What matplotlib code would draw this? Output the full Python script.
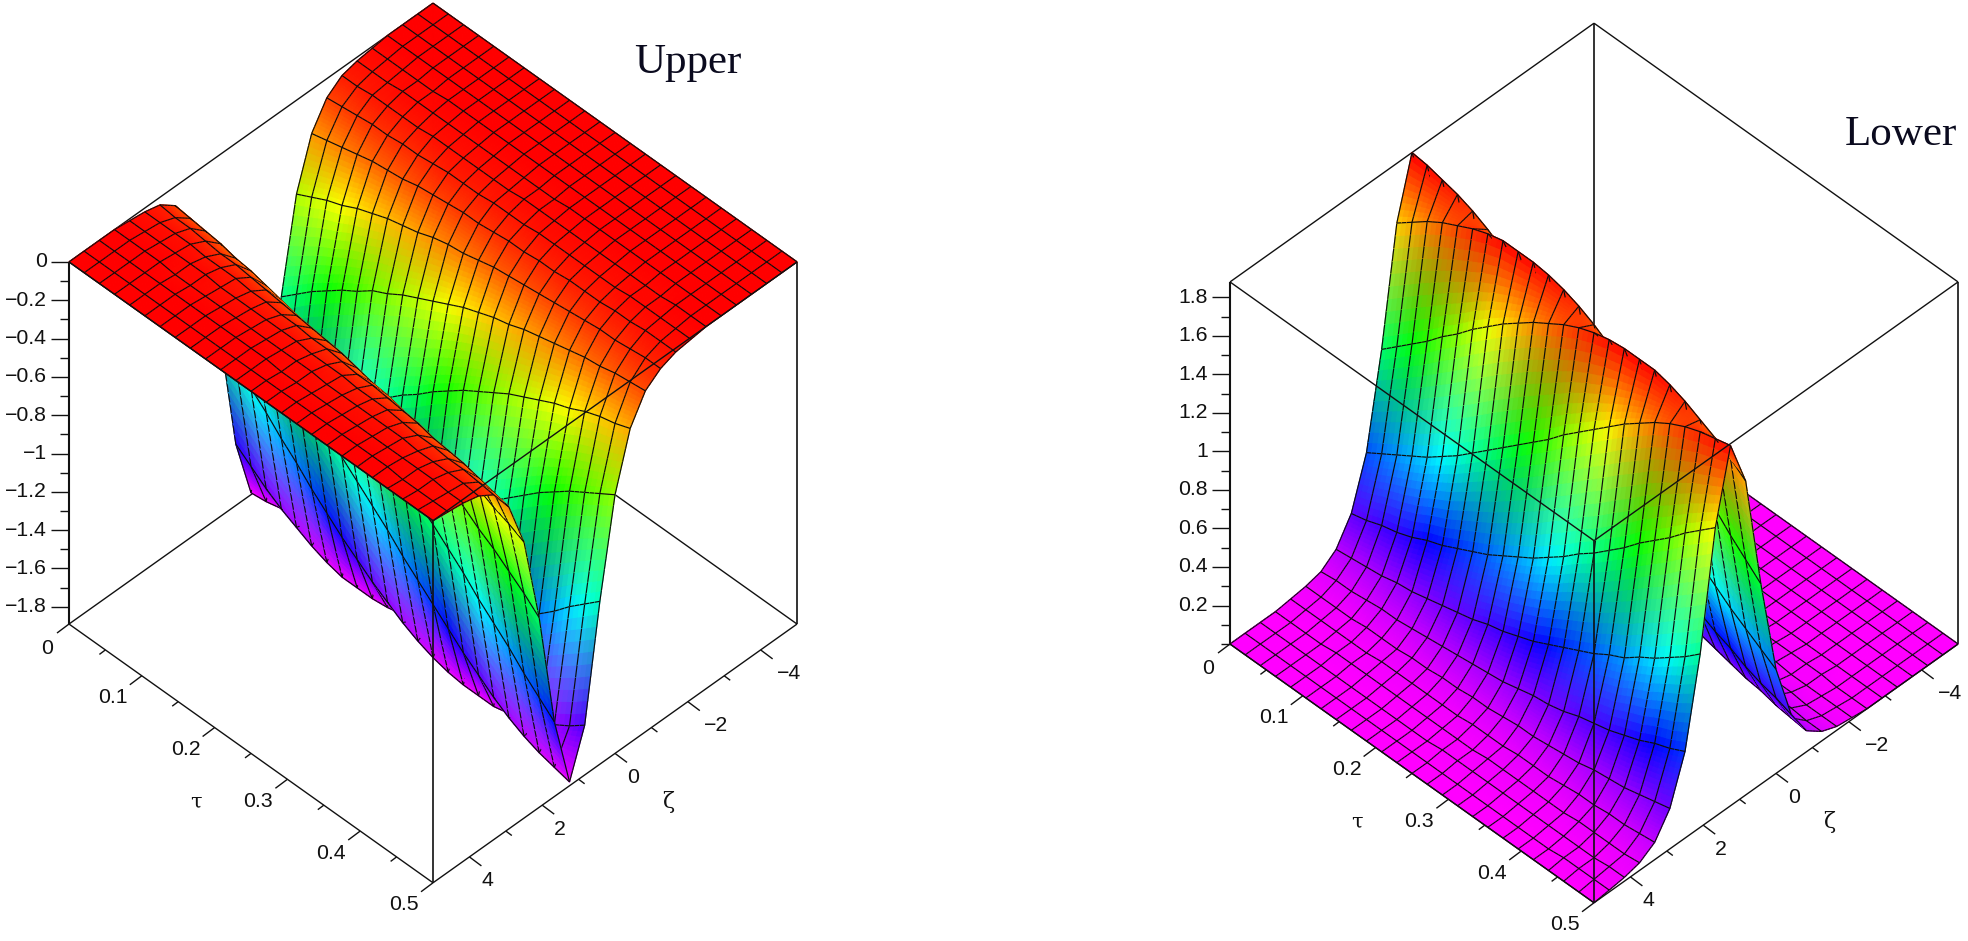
import numpy as np
import matplotlib
matplotlib.use("Agg")
import matplotlib.pyplot as plt
from matplotlib.colors import hsv_to_rgb
from mpl_toolkits.mplot3d.art3d import Poly3DCollection
from mpl_toolkits.mplot3d import proj3d

# ---------- data ----------
ZETA_RANGE = (-5.0, 5.0)
TAU_RANGE = (0.0, 0.5)
N_GRID = 25

# height of the soliton sheet: one list per zeta grid line (zeta = -5 ... 5),
# each with 25 entries for tau = 0 ... 0.5
C00 = [0.00]*25
C01 = [0.00]*25
C02 = [0.00]*25
C03 = [0.00]*25
C04 = [.01]*5+[0.00]*20
C05 = [.02,.02,.02]+[.01]*11+[0.00]*11
C06 = [.04,.04,.03,.03,.03,.03,.02,.02,.02,.02,.02,.02,.01,.01,.01,.01,.01,.01,.01,.01,.01,.01,.00,.00,.00]
C07 = [.10,.09,.08,.07,.07,.06,.06,.05,.04,.04,.04,.03,.03,.03,.02,.02,.02,.02,.02,.02,.01,.01,.01,.01,.01]
C08 = [.23,.21,.19,.17,.15,.14,.13,.11,.10,.09,.08,.08,.07,.06,.06,.05,.05,.04,.04,.04,.03,.03,.02,.02,.02]
C09 = [.49,.45,.41,.38,.34,.31,.28,.26,.24,.21,.19,.18,.16,.14,.13,.12,.11,.10,.09,.08,.07,.07,.06,.05,.05]
C10 = [.97,.90,.83,.77,.71,.66,.60,.56,.51,.47,.43,.39,.35,.32,.29,.27,.24,.22,.20,.18,.16,.15,.13,.12,.11]
C11 = [1.57,1.50,1.43,1.36,1.28,1.21,1.14,1.06,.99,.92,.86,.79,.73,.67,.62,.57,.52,.48,.44,.40,.37,.33,.30,.28,.25]
C12 = [1.88,1.87,1.85,1.83,1.80,1.76,1.71,1.65,1.59,1.52,1.45,1.38,1.31,1.23,1.16,1.09,1.02,.95,.88,.81,.75,.69,.64,.59,.54]
C13 = [1.57,1.63,1.69,1.74,1.78,1.82,1.85,1.87,1.87,1.87,1.86,1.84,1.81,1.77,1.72,1.67,1.61,1.55,1.48,1.41,1.33,1.26,1.18,1.11,1.04]
C14 = [.97,1.04,1.11,1.18,1.26,1.33,1.41,1.48,1.55,1.61,1.67,1.72,1.77,1.81,1.84,1.86,1.87,1.87,1.87,1.85,1.82,1.78,1.74,1.69,1.63]
C15 = [.49,.54,.59,.64,.69,.75,.81,.88,.95,1.02,1.09,1.16,1.23,1.31,1.38,1.45,1.52,1.59,1.65,1.71,1.76,1.80,1.83,1.85,1.87]
C16 = [.23,.25,.28,.30,.33,.37,.40,.44,.48,.52,.57,.62,.67,.73,.79,.86,.92,.99,1.06,1.14,1.21,1.28,1.36,1.43,1.50]
C17 = [.10,.11,.12,.13,.15,.16,.18,.20,.22,.24,.27,.29,.32,.35,.39,.43,.47,.51,.56,.60,.66,.71,.77,.83,.90]
C18 = [.04,.05,.05,.06,.07,.07,.08,.09,.10,.11,.12,.13,.14,.16,.18,.19,.21,.24,.26,.28,.31,.34,.38,.41,.45]
C19 = [.02,.02,.02,.02,.03,.03,.03,.04,.04,.05,.05,.06,.06,.07,.08,.08,.09,.10,.11,.13,.14,.15,.17,.19,.21]
C20 = [.01,.01,.01,.01,.01,.01,.02,.02,.02,.02,.02,.02,.03,.03,.03,.04,.04,.04,.05,.06,.06,.07,.07,.08,.09]
C21 = [.00,.00,.00,.00,.01,.01,.01,.01,.01,.01,.01,.01,.01,.01,.02,.02,.02,.02,.02,.02,.03,.03,.03,.03,.04]
C22 = [0.00]*12+[.01]*11+[.02,.02]
C23 = [0.00]*21+[.01]*4
C24 = [0.00]*25
HEIGHT_COLUMNS = [C00,C01,C02,C03,C04,C05,C06,C07,C08,C09,C10,C11,C12,
                  C13,C14,C15,C16,C17,C18,C19,C20,C21,C22,C23,C24]

UPPER_Z_RANGE = (-1.89, 0.0)
LOWER_Z_RANGE = (0.0, 1.88)
UPPER_Z_MAJOR = [0,-.2,-.4,-.6,-.8,-1,-1.2,-1.4,-1.6,-1.8]
UPPER_Z_LABELS = ["0","\u22120.2","\u22120.4","\u22120.6","\u22120.8","\u22121","\u22121.2","\u22121.4","\u22121.6","\u22121.8"]
UPPER_Z_MINOR = [-.1,-.3,-.5,-.7,-.9,-1.1,-1.3,-1.5,-1.7]
LOWER_Z_MAJOR = [.2,.4,.6,.8,1,1.2,1.4,1.6,1.8]
LOWER_Z_LABELS = ["0.2","0.4","0.6","0.8","1","1.2","1.4","1.6","1.8"]
LOWER_Z_MINOR = [0,.1,.3,.5,.7,.9,1.1,1.3,1.5,1.7]
TAU_MAJOR = [0,.1,.2,.3,.4,.5]
TAU_LABELS = ["0","0.1","0.2","0.3","0.4","0.5"]
TAU_MINOR = [.05,.15,.25,.35,.45]
ZETA_MAJOR = [-4,-2,0,2,4]
ZETA_LABELS = ["\u22124","\u22122","0","2","4"]
ZETA_MINOR = [-3,-1,1,3]

# ---------- layout ----------
W, H, DPI = 1968, 941, 100
ELEV, AZIM = 45.3, 45.0
SX, SY = 364.0, 259.0          # px per full axis on screen
AX_PX = 1000.0
TICK_FONT = dict(family="Liberation Sans", fontsize=15.3, color="#111111")
NZ, NT = 10, 3                 # sub-cells used to paint smooth (Gouraud-like) shading
BIAS = 0.018

zeta = np.linspace(*ZETA_RANGE, N_GRID)
tau = np.linspace(*TAU_RANGE, N_GRID)
height = np.array(HEIGHT_COLUMNS)     # [zeta, tau]


def off(dx, dy):
    """screen px offset (dy down) -> (dzeta, dtau) in data units"""
    dt = (dx / SX + dy / SY) / 2
    dz = (dy / SY - dx / SX) / 2
    return dz * 10.0, dt * 0.5


def refine(a):
    fj = np.linspace(0, N_GRID - 1, (N_GRID - 1) * NZ + 1)
    fi = np.linspace(0, N_GRID - 1, (N_GRID - 1) * NT + 1)
    j0 = np.minimum(fj.astype(int), N_GRID - 2)
    i0 = np.minimum(fi.astype(int), N_GRID - 2)
    wj = (fj - j0)[:, None]
    wi = (fi - i0)[None, :]
    a00 = a[np.ix_(j0, i0)]
    a10 = a[np.ix_(j0 + 1, i0)]
    a01 = a[np.ix_(j0, i0 + 1)]
    a11 = a[np.ix_(j0 + 1, i0 + 1)]
    if a.ndim == 3:
        wj = wj[..., None]
        wi = wi[..., None]
    return a00 * (1 - wj) * (1 - wi) + a10 * wj * (1 - wi) + a01 * (1 - wj) * wi + a11 * wj * wi


def draw_panel(cx, cy, Zv, zrange, zmaj, zlab, zmin_t, title, title_xy):
    left = (cx - 0.5135 * AX_PX) / W
    bottom = ((H - cy) - 0.5135 * AX_PX) / H
    ax = plt.figure(1).add_axes([left, bottom, AX_PX / W, AX_PX / H],
                                projection="3d", proj_type="ortho", computed_zorder=False)
    ax.set_box_aspect((1, 1, 1), zoom=0.8656)
    ax.view_init(elev=ELEV, azim=AZIM)
    ax.set_axis_off()
    lo, hi = zrange

    # surface colours: hue by height at mesh nodes, RGB blended across a cell
    t = np.clip((Zv - lo) / (hi - lo), 0, 1)
    hsv = np.dstack([0.8333 * (1 - t), np.ones_like(t), np.ones_like(t)])
    rgb = hsv_to_rgb(hsv)

    ZZ, TT = np.meshgrid(zeta, tau, indexing="ij")
    X, Y, Z = refine(ZZ), refine(TT), refine(Zv)
    C = refine(rgb)
    P = np.dstack([X, Y, Z])

    verts, fc, ec = [], [], []
    for a in range(P.shape[0] - 1):
        for b in range(P.shape[1] - 1):
            verts.append([P[a, b], P[a + 1, b], P[a + 1, b + 1], P[a, b + 1]])
            c = (C[a, b] + C[a + 1, b] + C[a + 1, b + 1] + C[a, b + 1]) / 4
            rgba = (c[0], c[1], c[2], 1.0)
            fc.append(rgba)
            ec.append(rgba)

    # mesh lines share the painter sort; moved along the line of sight so they
    # sort just ahead of their faces without changing their place on screen
    v = np.array([np.cos(np.radians(ELEV)) * np.cos(np.radians(AZIM)) * 10.0,
                  np.cos(np.radians(ELEV)) * np.sin(np.radians(AZIM)) * 0.5,
                  np.sin(np.radians(ELEV)) * (hi - lo)]) * BIAS
    black = (0.05, 0.05, 0.05, 1.0)
    for b in range(0, P.shape[1], NT):
        for a in range(P.shape[0] - 1):
            verts.append([P[a, b] + v, P[a + 1, b] + v])
            fc.append((0, 0, 0, 0))
            ec.append(black)
    for a in range(0, P.shape[0], NZ):
        for b in range(P.shape[1] - 1):
            verts.append([P[a, b] + v, P[a, b + 1] + v])
            fc.append((0, 0, 0, 0))
            ec.append(black)

    coll = Poly3DCollection(verts, facecolors=fc, edgecolors=ec, linewidths=0.85, zsort="average")
    coll.set_zorder(2)
    ax.add_collection3d(coll, autolim=False)

    ax.set_xlim(*ZETA_RANGE)
    ax.set_ylim(*TAU_RANGE)
    ax.set_zlim(lo, hi)
    M = ax.get_proj()

    def label(x, y, z, s, **kw):
        xp, yp, _ = proj3d.proj_transform(x, y, z, M)
        ax.text2D(xp, yp, s, transform=ax.transData, zorder=6, ha=kw.pop("ha", "center"),
                  va="center", **kw)

    zl, zr = ZETA_RANGE
    tl, tr = TAU_RANGE

    def seg(p, q, zo, lw=1.0):
        ax.plot([p[0], q[0]], [p[1], q[1]], [p[2], q[2]], color="#111111", lw=lw, zorder=zo,
                solid_capstyle="butt")

    # corners named by (zeta, tau): left=(5,0) front=(5,.5) right=(-5,.5) back=(-5,0)
    L, F, R, B = (zr, tl), (zr, tr), (zl, tr), (zl, tl)
    for p, q, zo in [(L, B, 1), (B, R, 1), (L, F, 5), (F, R, 5)]:
        seg((*p, lo), (*q, lo), zo)
        seg((*p, hi), (*q, hi), zo)
    seg((*L, lo), (*L, hi), 1, 1.5)
    seg((*F, lo), (*F, hi), 5, 1.2)
    seg((*R, lo), (*R, hi), 1, 1.2)
    seg((*B, lo), (*B, hi), 1, 1.2)

    # z axis ticks + labels on the left vertical edge
    for zv, lab in zip(zmaj, zlab):
        dz, dt = off(-18, 0)
        seg((zr, tl, zv), (zr + dz, tl + dt, zv), 5)
        dz, dt = off(-22, 0)
        label(zr + dz, tl + dt, zv, lab, ha="right", **TICK_FONT)
    for zv in zmin_t:
        dz, dt = off(-9, 0)
        seg((zr, tl, zv), (zr + dz, tl + dt, zv), 5)

    # tau axis on the left-front bottom edge
    for tv, lab in zip(TAU_MAJOR, TAU_LABELS):
        dz, dt = off(-12, 9)
        seg((zr, tv, lo), (zr + dz, tv + dt, lo), 5)
        dz, dt = off(-22 if lab == "0" else -29, 24 if lab == "0" else 22)
        label(zr + dz, tv + dt, lo, lab, **TICK_FONT)
    for tv in TAU_MINOR:
        dz, dt = off(-6, 4.5)
        seg((zr, tv, lo), (zr + dz, tv + dt, lo), 5)
    dz, dt = off(-55, 49)
    label(zr + dz, 0.25 + dt, lo, "\u03c4", family="DejaVu Serif", fontsize=15, color="#111111")

    # zeta axis on the front-right bottom edge
    for zv, lab in zip(ZETA_MAJOR, ZETA_LABELS):
        dz, dt = off(12, 9)
        seg((zv, tr, lo), (zv + dz, tr + dt, lo), 5)
        dz, dt = off(28 if zv < 0 else 18, 24)
        label(zv + dz, tr + dt, lo, lab, **TICK_FONT)
    for zv in ZETA_MINOR:
        dz, dt = off(6, 4.5)
        seg((zv, tr, lo), (zv + dz, tr + dt, lo), 5)
    dz, dt = off(53, 49)
    label(0 + dz, tr + dt, lo, "\u03b6", family="DejaVu Serif", fontsize=16, color="#111111")

    plt.figure(1).text(title_xy[0] / W, 1 - title_xy[1] / H, title, ha="center", va="center",
                       family="Liberation Serif", fontsize=31, color="#0a0a1e")
    return ax


fig = plt.figure(1, figsize=(W / DPI, H / DPI), dpi=DPI, facecolor="white")
draw_panel(433, 443, -height, UPPER_Z_RANGE, UPPER_Z_MAJOR, UPPER_Z_LABELS, UPPER_Z_MINOR,
           "Upper", (688, 63))
draw_panel(1594, 463, height, LOWER_Z_RANGE, LOWER_Z_MAJOR, LOWER_Z_LABELS, LOWER_Z_MINOR,
           "Lower", (1901, 135))
fig.savefig("out.png", dpi=DPI)
